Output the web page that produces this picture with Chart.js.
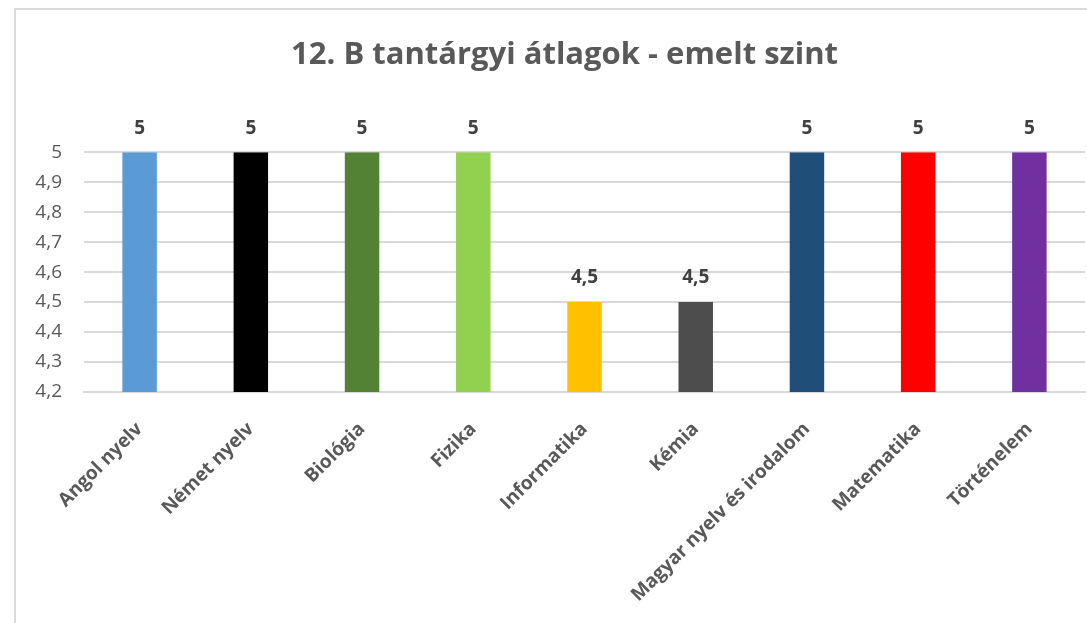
<!DOCTYPE html>
<html>
<head>
<meta charset="utf-8">
<script src="https://cdn.jsdelivr.net/npm/chart.js@4"></script>
<style>
  html, body { margin: 0; padding: 0; background: #fff; overflow: hidden; }
  #wrap {
    position: absolute; left: 14px; top: 8px; width: 1120px; height: 615px;
    border-left: 2px solid #d9d9d9; border-top: 2px solid #d9d9d9;
  }
  #myChart { position: absolute; left: -14px; top: 0; }
</style>
</head>
<body>
<div id="wrap"><canvas id="myChart" width="1124" height="613"></canvas></div>
<script>
const subjects = ["Angol nyelv", "Német nyelv", "Biológia", "Fizika", "Informatika",
  "Kémia", "Magyar nyelv és irodalom", "Matematika", "Történelem"];
const averages = [5, 5, 5, 5, 4.5, 4.5, 5, 5, 5];
const barColors = ["#5b9bd5", "#000000", "#548235", "#92d050", "#ffc000",
  "#4d4d4d", "#1f4e79", "#ff0000", "#7030a0"];
const yMin = 4.2;
const yMax = 5;
const yStep = 0.1;

const fmt = (v) => String(Math.round(v * 10) / 10).replace(".", ",");

// value labels above the bars
const barLabels = {
  id: "barLabels",
  afterDatasetsDraw(chart) {
    const ctx = chart.ctx;
    const meta = chart.getDatasetMeta(0);
    ctx.save();
    ctx.font = "bold 19px 'Open Sans'";
    ctx.fillStyle = "#404040";
    ctx.textAlign = "center";
    ctx.textBaseline = "middle";
    meta.data.forEach((bar, i) => {
      ctx.fillText(fmt(chart.data.datasets[0].data[i]), bar.x, bar.y - 24);
    });
    ctx.restore();
  },
};

// centre the title on the whole canvas, not on the padded area
const titleShift = {
  id: "titleShift",
  afterLayout(chart) {
    if (chart.titleBlock) {
      chart.titleBlock.left += 21;
      chart.titleBlock.right += 21;
    }
  },
};

var ctx = document.getElementById("myChart").getContext("2d");
var myChart = new Chart(ctx, {
  type: "bar",
  data: {
    labels: subjects,
    datasets: [
      {
        data: averages,
        backgroundColor: barColors,
        borderWidth: 0,
        barPercentage: 0.31,
        categoryPercentage: 1,
      },
    ],
  },
  options: {
    responsive: false,
    animation: false,
    layout: { padding: { top: 0, right: 41, left: 0, bottom: 0 } },
    plugins: {
      legend: { display: false },
      tooltip: { enabled: false },
      title: {
        display: true,
        text: "12. B tantárgyi átlagok - emelt szint",
        color: "#595959",
        font: { family: "'Open Sans'", size: 31, weight: "bold" },
        padding: { top: 27, bottom: 78 },
      },
    },
    scales: {
      x: {
        grid: { display: false },
        border: { color: "#d9d9d9", width: 2 },
        ticks: {
          color: "#595959",
          font: { family: "'Open Sans'", size: 19, weight: "bold" },
          maxRotation: 45,
          minRotation: 45,
          autoSkip: false,
          padding: 18,
        },
        afterFit(scale) {
          scale.height = 231;
          scale.paddingRight = 0;
          scale.paddingLeft = 0;
        },
      },
      y: {
        min: yMin,
        max: yMax,
        grid: { color: "#d9d9d9", lineWidth: 2, drawTicks: false },
        border: { display: false },
        ticks: {
          stepSize: yStep,
          color: "#595959",
          font: { family: "'Open Sans'", size: 19 },
          padding: 22,
          callback: (v) => fmt(v),
        },
        afterFit(scale) {
          scale.width = 82;
        },
      },
    },
  },
  plugins: [barLabels, titleShift],
});
</script>
</body>
</html>
